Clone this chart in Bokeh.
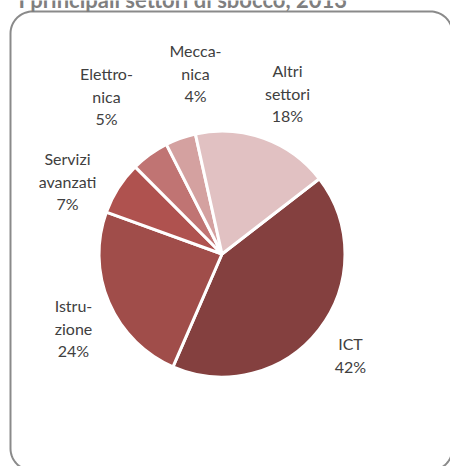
import numpy as np
from bokeh.plotting import figure
from bokeh.models import Range1d, ColumnDataSource
from bokeh.core.properties import value
from bokeh.embed import file_html
from bokeh.resources import INLINE

# ---- data ----
title = "I principali settori di sbocco, 2013"
sectors = ["ICT", "Istruzione", "Servizi avanzati", "Elettronica", "Meccanica", "Altri settori"]
label_lines = [["ICT"], ["Istru-", "zione"], ["Servizi", "avanzati"],
               ["Elettro-", "nica"], ["Mecca-", "nica"], ["Altri", "settori"]]
shares = [42, 24, 7, 5, 4, 18]
colors = ["#84403F", "#A04D4A", "#AF524F", "#C07473", "#D4A1A0", "#E1C1C2"]

# ---- layout (picture pixels) ----
W, H = 450, 466
CX, CY, R = 221.5, 253.5, 123.0
FIRST_ANGLE = 52.3  # degrees, clockwise from 12 o'clock
label_pos = [(350, 343), (73, 305), (67, 158), (106, 73), (195, 50), (287, 70)]
LINE_H = 22.5
FONT = "Lato"
TXT = "#404040"

def Y(py):
    return -py

p = figure(width=W, height=H, x_range=Range1d(0, W), y_range=Range1d(-H, 0),
           output_backend="svg", toolbar_location=None, min_border=0,
           x_axis_type=None, y_axis_type=None)
p.grid.visible = False
p.outline_line_color = None
p.background_fill_color = "white"
p.border_fill_color = "white"

# rounded border frame
x0, x1, y0, y1, rr = 10, 452, 11, 470, 22
pts_x, pts_y = [], []
def arc(cx, cy, a0, a1):
    t = np.radians(np.linspace(a0, a1, 20))
    pts_x.extend(cx + rr * np.cos(t))
    pts_y.extend(cy - rr * np.sin(t))
arc(x0 + rr, y0 + rr, 180, 90)
arc(x1 - rr, y0 + rr, 90, 0)
arc(x1 - rr, y1 - rr, 0, -90)
arc(x0 + rr, y1 - rr, -90, -180)
pts_x.append(pts_x[0]); pts_y.append(pts_y[0])
p.line(pts_x, [Y(v) for v in pts_y], line_color="#8A8A8A", line_width=2)

# title (cut off at the top like the reference)
p.text(x=[18], y=[Y(12)], text=[title], text_font=value(FONT), text_font_style="bold",
       text_font_size="22px", text_color="#7F7F7F", text_baseline="bottom", text_align="left")

# pie
total = float(sum(shares))
cum = np.concatenate([[0], np.cumsum(shares)[:-1]])
start_cw = FIRST_ANGLE + 360 * cum / total
end_cw = start_cw + 360 * np.array(shares) / total
src = ColumnDataSource(dict(
    sector=sectors, share=shares, color=colors,
    start=np.radians(90 - start_cw), end=np.radians(90 - end_cw)))
p.wedge(x=CX, y=Y(CY), radius=R, start_angle="start", end_angle="end", direction="clock",
        fill_color="color", line_color="white", line_width=3, source=src)

# labels
tx, ty, tt = [], [], []
for lines, share, (lx, ly) in zip(label_lines, shares, label_pos):
    allines = lines + [f"{share}%"]
    for i, s in enumerate(allines):
        tx.append(lx); ty.append(Y(ly + i * LINE_H)); tt.append(s)
p.text(x=tx, y=ty, text=tt, text_font=value(FONT), text_font_size="16px",
       text_color=TXT, text_align="center", text_baseline="middle")

open("out.html", "w").write(file_html(p, INLINE))
